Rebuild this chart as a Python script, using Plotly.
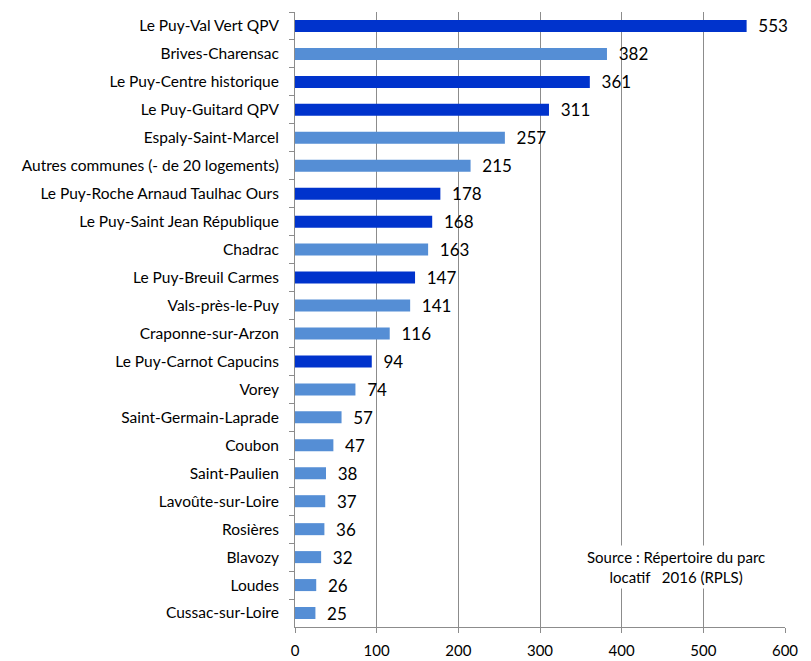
import plotly.graph_objects as go

communes = [
    "Le Puy-Val Vert QPV", "Brives-Charensac", "Le Puy-Centre historique",
    "Le Puy-Guitard QPV", "Espaly-Saint-Marcel", "Autres communes (- de 20 logements)",
    "Le Puy-Roche Arnaud Taulhac Ours", "Le Puy-Saint Jean République", "Chadrac",
    "Le Puy-Breuil Carmes", "Vals-près-le-Puy", "Craponne-sur-Arzon",
    "Le Puy-Carnot Capucins", "Vorey", "Saint-Germain-Laprade", "Coubon",
    "Saint-Paulien", "Lavoûte-sur-Loire", "Rosières", "Blavozy", "Loudes",
    "Cussac-sur-Loire",
]
logements = [553, 382, 361, 311, 257, 215, 178, 168, 163, 147, 141, 116,
             94, 74, 57, 47, 38, 37, 36, 32, 26, 25]
quartiers_puy = {
    "Le Puy-Val Vert QPV", "Le Puy-Centre historique", "Le Puy-Guitard QPV",
    "Le Puy-Roche Arnaud Taulhac Ours", "Le Puy-Saint Jean République",
    "Le Puy-Breuil Carmes", "Le Puy-Carnot Capucins",
}
x_ticks = [0, 100, 200, 300, 400, 500, 600]

DARK = "#0033CC"
LIGHT = "#558ED5"
colors = [DARK if c in quartiers_puy else LIGHT for c in communes]
FONT = "Lato"

fig = go.Figure(go.Bar(
    x=logements,
    y=communes,
    orientation="h",
    marker=dict(color=colors, line=dict(width=0)),
    width=0.43,
    text=[f"  {v}" for v in logements],
    textposition="outside",
    constraintext="none",
    textfont=dict(size=17, color="#000000", family=FONT),
    cliponaxis=False,
))

fig.update_layout(
    width=811, height=661,
    margin=dict(l=295, r=26, t=12, b=34, autoexpand=False),
    plot_bgcolor="white", paper_bgcolor="white",
    showlegend=False,
    font=dict(family=FONT, size=15, color="#000000"),
    xaxis=dict(
        range=[0, 600], tickvals=x_ticks, ticktext=[str(t) for t in x_ticks],
        showgrid=True, gridcolor="#8C8C8C", gridwidth=1,
        showline=True, linecolor="#8C8C8C", linewidth=1,
        ticks="outside", ticklen=5, tickcolor="#8C8C8C",
        ticklabelstandoff=5, zeroline=False, automargin=False,
        tickfont=dict(size=15),
    ),
    yaxis=dict(
        categoryorder="array", categoryarray=communes, autorange="reversed",
        showline=True, linecolor="#8C8C8C", linewidth=1,
        ticks="outside", ticklen=5, tickcolor="#8C8C8C", tickson="boundaries",
        showgrid=False, tickfont=dict(size=15.5), ticklabelstandoff=12,
        automargin=False,
    ),
    annotations=[dict(
        x=0.778, y=0.097, xref="paper", yref="paper",
        xanchor="center", yanchor="middle",
        text="Source : Répertoire du parc<br>locatif   2016 (RPLS)",
        showarrow=False, align="center",
        bgcolor="white", font=dict(size=15, color="#000000"),
        borderpad=2,
    )],
)

fig.write_html("out.html")
